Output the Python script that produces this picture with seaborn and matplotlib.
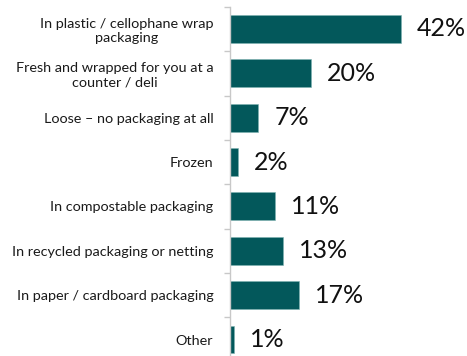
import matplotlib
matplotlib.use("Agg")
import matplotlib.pyplot as plt
import seaborn as sns
import pandas as pd
import numpy as np

categories = [
    "In plastic / cellophane wrap\npackaging",
    "Fresh and wrapped for you at a\ncounter / deli",
    "Loose \u2013 no packaging at all",
    "Frozen",
    "In compostable packaging",
    "In recycled packaging or netting",
    "In paper / cardboard packaging",
    "Other",
]
values = [42, 20, 7, 2, 11, 13, 17, 1]
value_labels = ["42%", "20%", "7%", "2%", "11%", "13%", "17%", "1%"]

df = pd.DataFrame({"category": categories, "value": values})

sns.set_style("white")
plt.rcParams["font.family"] = ["Lato", "DejaVu Sans"]

W, H = 467, 356
fig = plt.figure(figsize=(W / 100, H / 100), dpi=100)
x0, y_top, y_bot = 230, 6.8, 361.7
ax = fig.add_axes([x0 / W, 1 - y_bot / H, (W - x0) / W, (y_bot - y_top) / H])

bar_color = "#03585B"
sns.barplot(data=df, y="category", x="value", orient="h", color=bar_color,
            width=0.63, saturation=1, ax=ax, edgecolor="#7fb3b3", linewidth=0.4)

ax.set_xlim(0, (W - x0) / 4.07)
ax.set_ylim(len(categories) - 0.5, -0.5)
ax.set_xlabel("")
ax.set_ylabel("")
ax.set_xticks([])

for s in ["top", "right", "bottom"]:
    ax.spines[s].set_visible(False)
ax.spines["left"].set_color("#c8c8c8")
ax.spines["left"].set_linewidth(1.0)

ax.set_yticks(range(len(categories)))
ax.set_yticklabels(categories, fontsize=10.4, color="#1a1a1a", multialignment="center")
ax.tick_params(axis="y", which="major", length=0, pad=12)
ax.set_yticks(np.arange(-0.5, len(categories), 1.0), minor=True)
ax.tick_params(axis="y", which="minor", length=4, color="#c8c8c8", width=1.0, left=True)

for i, (v, lab) in enumerate(zip(values, value_labels)):
    ax.text(v + 3.9, i, lab, va="center", ha="left", fontsize=18, color="#111111")

fig.savefig("out.png", dpi=100)
